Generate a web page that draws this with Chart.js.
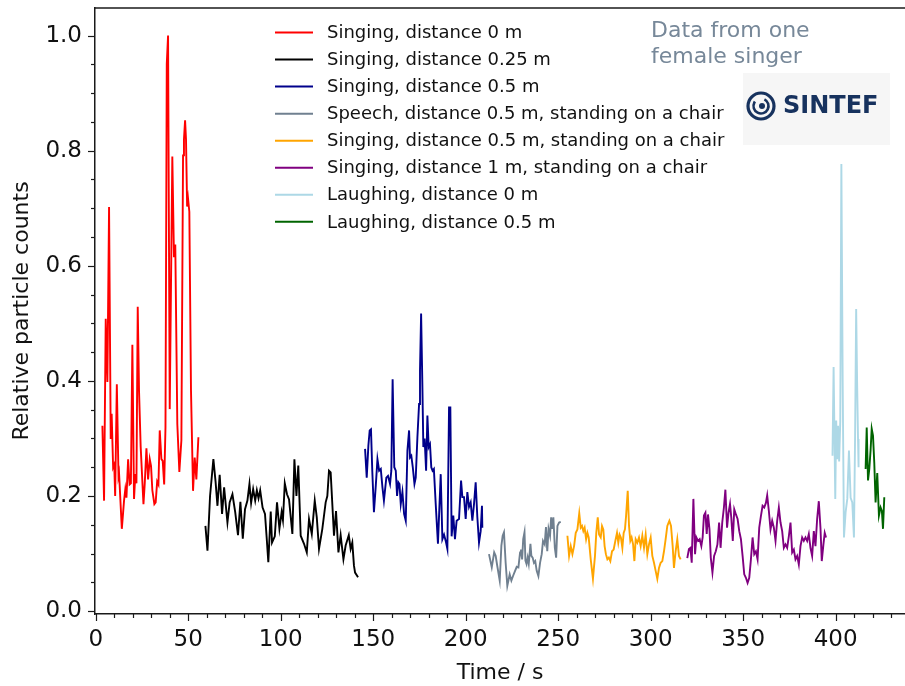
<!DOCTYPE html>
<html>
<head>
<meta charset="utf-8">
<script src="https://cdn.jsdelivr.net/npm/chart.js@4.4.0/dist/chart.umd.min.js"></script>
<style>
  html, body { margin: 0; padding: 0; background: #fff; }
  #wrap { width: 905px; height: 686px; position: relative; }
</style>
</head>
<body>
<div id="wrap"><canvas id="chart"></canvas></div>
<script>
// Relative particle counts vs time, one segment per recording condition
const labels = [
    'Singing, distance 0 m',
    'Singing, distance 0.25 m',
    'Singing, distance 0.5 m',
    'Speech, distance 0.5 m, standing on a chair',
    'Singing, distance 0.5 m, standing on a chair',
    'Singing, distance 1 m, standing on a chair',
    'Laughing, distance 0 m',
    'Laughing, distance 0.5 m'
];
const colors = ['#ff0000', '#000000', '#00008b', '#708090', '#ffa500', '#800080', '#add8e6', '#006400'];

const xTicks = [0, 50, 100, 150, 200, 250, 300, 350, 400];
const yTicks = [0.0, 0.2, 0.4, 0.6, 0.8, 1.0];

const sing0T = [3.6, 4.5, 5.4, 6.3, 7.2, 8.1, 8.6, 9.4, 10, 10.5, 11.4, 12.3, 12.6, 14.1, 15.3, 16, 16.6, 17.5, 18.3, 19, 19.8, 20.7, 21.4, 22, 22.7, 23.4, 24.3, 25.8, 26.5, 27.4, 28.3, 29.2, 29.9, 30.6, 31.7, 32.4, 33.2, 33.9, 34.6, 35.5, 36.2, 37, 37.7, 38.4, 39.1, 40, 41.4, 42.3, 43, 44.1, 45.2, 46.3, 47.2, 47.7, 48.3, 48.8, 49.4, 49.9, 50.6, 51.5, 52.6, 53.5, 54.4, 55.5];
const sing0V = [0.322, 0.192, 0.508, 0.398, 0.702, 0.299, 0.343, 0.25, 0.255, 0.2, 0.394, 0.235, 0.24, 0.143, 0.192, 0.212, 0.197, 0.264, 0.22, 0.222, 0.463, 0.195, 0.238, 0.222, 0.529, 0.383, 0.285, 0.186, 0.222, 0.283, 0.229, 0.264, 0.252, 0.21, 0.186, 0.189, 0.225, 0.22, 0.314, 0.264, 0.261, 0.22, 0.319, 0.951, 1.0, 0.351, 0.79, 0.615, 0.637, 0.325, 0.242, 0.297, 0.792, 0.82, 0.853, 0.82, 0.703, 0.717, 0.694, 0.383, 0.209, 0.267, 0.229, 0.302];

const sing25T = [59.3, 60.4, 61.8, 63.6, 64.8, 65.8, 67, 68.3, 69.4, 71.2, 72.4, 73.9, 75.4, 76.9, 78.2, 79.5, 80.7, 82, 83.1, 84, 85.1, 86.2, 87.1, 88, 88.9, 90.2, 91.5, 92.4, 93.3, 94.6, 95.3, 96.8, 98, 99.3, 100.5, 101.2, 102.2, 103.4, 104.5, 106.3, 107.4, 108.5, 109.5, 110.8, 112.6, 114.1, 115.3, 116.8, 118.4, 119.5, 120.7, 122.5, 124.3, 125.2, 126.1, 127, 128.8, 129.9, 131.2, 132.4, 133.9, 135.1, 136.8, 137.8, 138.7, 139.6, 140.2, 141.8];
const sing25V = [0.148, 0.105, 0.2, 0.264, 0.224, 0.183, 0.237, 0.169, 0.215, 0.154, 0.189, 0.203, 0.172, 0.132, 0.19, 0.126, 0.177, 0.192, 0.221, 0.188, 0.212, 0.192, 0.21, 0.196, 0.21, 0.18, 0.169, 0.128, 0.085, 0.173, 0.119, 0.13, 0.189, 0.143, 0.172, 0.158, 0.222, 0.203, 0.194, 0.134, 0.264, 0.2, 0.253, 0.131, 0.117, 0.102, 0.16, 0.134, 0.192, 0.163, 0.108, 0.143, 0.189, 0.2, 0.244, 0.241, 0.131, 0.174, 0.102, 0.132, 0.09, 0.114, 0.132, 0.108, 0.119, 0.079, 0.067, 0.059];

const sing05T = [145.6, 146.5, 147.4, 148.1, 148.8, 149.5, 150.4, 151.4, 152.3, 153.2, 154.1, 155, 155.8, 157.1, 158, 159.1, 159.8, 160.5, 161.4, 162.2, 162.9, 163.6, 164.2, 164.9, 165.8, 166.7, 167.6, 168.5, 169.4, 169.9, 170.6, 171.4, 172.3, 173, 173.9, 174.8, 175.3, 175.9, 176.6, 177.1, 177.8, 178.6, 179.3, 180, 180.7, 181.4, 182.1, 182.8, 183.8, 185, 186.5, 187.4, 188.3, 189.2, 190.1, 191, 191.7, 192.4, 193.3, 194.2, 195.1, 196.4, 197.5, 198.2, 199.1, 200, 200.9, 201.8, 202.7, 203.6, 204.5, 205.4, 206.3, 207.2, 208.1, 208.8, 209];
const sing05V = [0.282, 0.232, 0.288, 0.314, 0.316, 0.244, 0.172, 0.218, 0.264, 0.244, 0.247, 0.215, 0.192, 0.232, 0.235, 0.221, 0.244, 0.403, 0.25, 0.244, 0.2, 0.224, 0.221, 0.186, 0.207, 0.169, 0.157, 0.279, 0.314, 0.267, 0.27, 0.25, 0.221, 0.232, 0.302, 0.36, 0.418, 0.517, 0.389, 0.285, 0.3, 0.244, 0.34, 0.285, 0.29, 0.25, 0.244, 0.247, 0.186, 0.117, 0.238, 0.125, 0.133, 0.122, 0.108, 0.354, 0.354, 0.13, 0.166, 0.125, 0.157, 0.16, 0.227, 0.198, 0.198, 0.16, 0.207, 0.181, 0.189, 0.157, 0.186, 0.224, 0.163, 0.119, 0.139, 0.183, 0.145];

const speechT = [212.6, 214.1, 215.4, 216.2, 217.1, 218.4, 219.3, 220, 220.7, 221.6, 222.5, 223.8, 224.7, 225.6, 226.7, 227.6, 228.5, 229.4, 229.9, 230.5, 231.1, 231.8, 232.3, 232.9, 233.5, 234.1, 235, 235.5, 236.2, 236.9, 237.6, 238.4, 239.3, 240.2, 241.1, 241.8, 242.7, 243.4, 244.1, 244.8, 245.6, 246.2, 246.9, 247.4, 248.2, 248.9, 249.6, 250.5, 251.4];
const speechV = [0.099, 0.076, 0.102, 0.096, 0.078, 0.053, 0.114, 0.131, 0.137, 0.084, 0.044, 0.064, 0.053, 0.061, 0.07, 0.077, 0.076, 0.102, 0.107, 0.09, 0.125, 0.137, 0.088, 0.082, 0.093, 0.082, 0.117, 0.096, 0.093, 0.084, 0.087, 0.07, 0.061, 0.084, 0.099, 0.122, 0.116, 0.146, 0.104, 0.143, 0.131, 0.163, 0.143, 0.163, 0.11, 0.093, 0.148, 0.154, 0.155];

const chair05T = [255, 255.9, 256.8, 257.7, 258.6, 259.5, 260.4, 261.4, 262.2, 262.9, 263.6, 264.3, 265.1, 265.8, 266.5, 267.6, 268.8, 269.9, 270.6, 271.4, 272.1, 273, 273.7, 274.4, 275.1, 275.8, 276.6, 277.4, 278.2, 279.1, 280, 280.9, 281.8, 282.5, 283.2, 283.9, 284.7, 285.4, 286.1, 286.7, 287.6, 288.3, 289, 289.7, 290.5, 291.2, 291.9, 292.8, 293.7, 294.6, 295.5, 296.4, 297.3, 298.2, 299.1, 300, 300.9, 301.8, 302.7, 303.6, 304.5, 305.4, 306.3, 307.2, 308.1, 309, 310.1, 311, 311.9, 312.6, 313.5, 314.4, 315.3, 316.2];
const chair05V = [0.131, 0.096, 0.113, 0.099, 0.113, 0.136, 0.142, 0.17, 0.145, 0.148, 0.139, 0.145, 0.125, 0.136, 0.128, 0.09, 0.056, 0.096, 0.136, 0.163, 0.133, 0.128, 0.148, 0.142, 0.113, 0.099, 0.09, 0.093, 0.087, 0.104, 0.107, 0.122, 0.136, 0.119, 0.133, 0.128, 0.11, 0.136, 0.142, 0.165, 0.209, 0.148, 0.122, 0.128, 0.116, 0.087, 0.125, 0.119, 0.128, 0.113, 0.131, 0.11, 0.133, 0.099, 0.116, 0.128, 0.096, 0.084, 0.07, 0.056, 0.075, 0.084, 0.087, 0.104, 0.125, 0.148, 0.157, 0.148, 0.113, 0.075, 0.104, 0.125, 0.096, 0.09];

const chair1T = [319.8, 320.7, 321.5, 322.2, 323.1, 324, 324.7, 325.6, 326.5, 327.4, 328.1, 328.8, 329.6, 330.3, 331, 331.8, 332.5, 333.4, 334.3, 335.2, 336.1, 337, 337.8, 338.7, 339.6, 340.4, 341.3, 342.1, 342.9, 343.6, 344.4, 345.2, 346.1, 347, 347.9, 348.8, 349.7, 350.6, 351.5, 352.4, 353.3, 354.2, 355.1, 356, 356.9, 357.8, 358.7, 359.6, 360.5, 361.4, 362.3, 363, 363.9, 364.8, 365.7, 366.6, 367.5, 368.4, 369.3, 370.2, 371.1, 372, 372.9, 373.8, 374.7, 375.6, 376.5, 377.4, 378.3, 379.2, 380.1, 381, 381.9, 382.8, 383.7, 384.6, 385.5, 386.4, 387.3, 388.2, 389.1, 390, 390.9, 391.8, 392.5, 393.4, 394.1, 394.8];
const chair1V = [0.092, 0.108, 0.11, 0.084, 0.195, 0.099, 0.128, 0.122, 0.125, 0.113, 0.128, 0.166, 0.171, 0.134, 0.168, 0.142, 0.093, 0.067, 0.096, 0.104, 0.116, 0.154, 0.11, 0.154, 0.18, 0.211, 0.145, 0.171, 0.186, 0.162, 0.122, 0.177, 0.168, 0.16, 0.139, 0.125, 0.096, 0.064, 0.058, 0.049, 0.058, 0.09, 0.128, 0.099, 0.104, 0.09, 0.145, 0.165, 0.183, 0.18, 0.188, 0.201, 0.174, 0.142, 0.157, 0.145, 0.122, 0.157, 0.18, 0.154, 0.139, 0.11, 0.116, 0.11, 0.13, 0.154, 0.102, 0.107, 0.09, 0.096, 0.081, 0.113, 0.128, 0.122, 0.128, 0.122, 0.134, 0.11, 0.096, 0.139, 0.113, 0.16, 0.191, 0.145, 0.087, 0.116, 0.136, 0.128];

const laugh0T = [398.3, 398.9, 399.3, 399.8, 400.3, 400.8, 401.3, 401.9, 402.5, 403.1, 403.8, 404.5, 405.4, 406.3, 407.2, 408.1, 409, 409.9, 410.5, 411.1, 411.6, 412.1, 412.4];
const laugh0V = [0.27, 0.424, 0.322, 0.195, 0.331, 0.264, 0.322, 0.26, 0.33, 0.777, 0.4, 0.128, 0.172, 0.195, 0.279, 0.197, 0.189, 0.128, 0.3, 0.525, 0.4, 0.299, 0.25];

const laugh05T = [416.2, 416.8, 417.5, 418.2, 418.9, 419.5, 420.2, 420.9, 421.6, 422.5, 423.4, 424.3, 425, 425.6, 426.3];
const laugh05V = [0.247, 0.319, 0.227, 0.247, 0.28, 0.317, 0.305, 0.257, 0.189, 0.24, 0.166, 0.18, 0.174, 0.143, 0.198];

const seriesT = [sing0T, sing25T, sing05T, speechT, chair05T, chair1T, laugh0T, laugh05T];
const seriesV = [sing0V, sing25V, sing05V, speechV, chair05V, chair1V, laugh0V, laugh05V];

const FONT = '"DejaVu Sans", sans-serif';
const AXIS = '#1a1a1a';

// spines, minor/major tick marks, legend, note and logo
const decorations = {
    id: 'decorations',
    afterDraw(chart) {
        const ctx = chart.ctx;
        const area = chart.chartArea;
        const xs = chart.scales.x;
        const ys = chart.scales.y;
        ctx.save();

        // top spine
        ctx.strokeStyle = AXIS;
        ctx.lineWidth = 1.5;
        ctx.beginPath();
        ctx.moveTo(area.left, area.top);
        ctx.lineTo(area.right, area.top);
        ctx.stroke();

        // x ticks
        ctx.lineWidth = 1.2;
        for (let v = 0; v <= 430; v += 10) {
            const px = Math.round(xs.getPixelForValue(v)) + 0.5;
            const len = v % 50 === 0 ? 7 : 4;
            ctx.beginPath();
            ctx.moveTo(px, area.bottom);
            ctx.lineTo(px, area.bottom + len);
            ctx.stroke();
        }
        // y ticks
        for (let i = 0; i <= 20; i++) {
            const py = Math.round(ys.getPixelForValue(i * 0.05)) + 0.5;
            const len = i % 4 === 0 ? 7 : 4;
            ctx.beginPath();
            ctx.moveTo(area.left, py);
            ctx.lineTo(area.left - len, py);
            ctx.stroke();
        }

        // legend
        ctx.font = '18px ' + FONT;
        ctx.textBaseline = 'middle';
        ctx.textAlign = 'left';
        chart.data.datasets.forEach((ds, i) => {
            const y = 32.5 + i * 27.05;
            ctx.strokeStyle = ds.borderColor;
            ctx.lineWidth = 2;
            ctx.beginPath();
            ctx.moveTo(275, y);
            ctx.lineTo(313, y);
            ctx.stroke();
            ctx.fillStyle = '#111';
            ctx.fillText(ds.label, 327, y + 1);
        });

        // note
        ctx.font = '22px ' + FONT;
        ctx.fillStyle = '#778899';
        ctx.fillText('Data from one', 651, 31);
        ctx.fillText('female singer', 651, 57);

        // logo box
        ctx.fillStyle = '#f6f6f6';
        ctx.fillRect(743, 73, 147, 72);
        const cx = 761, cy = 106;
        ctx.strokeStyle = '#17325e';
        ctx.fillStyle = '#17325e';
        ctx.lineWidth = 3.2;
        ctx.beginPath();
        ctx.arc(cx, cy, 13, 0, Math.PI * 2);
        ctx.stroke();
        ctx.lineWidth = 2.6;
        ctx.beginPath();
        ctx.arc(cx, cy, 7.5, -Math.PI * 0.35, Math.PI * 1.2);
        ctx.stroke();
        ctx.beginPath();
        ctx.arc(cx + 1, cy, 3, 0, Math.PI * 2);
        ctx.fill();
        ctx.font = 'bold 24px ' + FONT;
        ctx.fillText('SINTEF', 783, 107);

        ctx.restore();
    }
};

const datasets = labels.map((label, i) => ({
    label: label,
    data: seriesT[i].map((t, j) => ({ x: t, y: seriesV[i][j] })),
    borderColor: colors[i],
    backgroundColor: colors[i],
    borderWidth: 1.9,
    pointRadius: 0,
    tension: 0,
    fill: false
}));

new Chart(document.getElementById('chart'), {
    type: 'line',
    data: { datasets: datasets },
    options: {
        responsive: true,
        maintainAspectRatio: false,
        animation: false,
        layout: { padding: { top: 8, right: 0, left: 0, bottom: 0 } },
        plugins: { legend: { display: false }, tooltip: { enabled: false } },
        scales: {
            x: {
                type: 'linear',
                min: -0.4,
                max: 437.5,
                afterBuildTicks: scale => { scale.ticks = xTicks.map(v => ({ value: v })); },
                afterFit: scale => {
                    scale.height = 72;
                    scale.paddingLeft = 0;
                    scale.paddingRight = 0;
                },
                grid: { display: true, drawOnChartArea: false, drawTicks: true, tickLength: 7, tickColor: 'rgba(0,0,0,0)' },
                border: { display: true, color: AXIS, width: 1.5 },
                ticks: { color: '#111', padding: 5, maxRotation: 0, font: { family: FONT, size: 23 } },
                title: { display: true, text: 'Time / s', color: '#111', padding: { top: 0, bottom: 0 }, font: { family: FONT, size: 22 } }
            },
            y: {
                type: 'linear',
                min: -0.005,
                max: 1.048,
                afterBuildTicks: scale => { scale.ticks = yTicks.map(v => ({ value: v })); },
                afterFit: scale => {
                    scale.width = 95;
                    scale.paddingTop = 0;
                    scale.paddingBottom = 0;
                },
                grid: { display: true, drawOnChartArea: false, drawTicks: true, tickLength: 7, tickColor: 'rgba(0,0,0,0)' },
                border: { display: true, color: AXIS, width: 1.5 },
                ticks: { color: '#111', padding: 6, callback: v => v.toFixed(1), font: { family: FONT, size: 23 } },
                title: { display: true, text: 'Relative particle counts', color: '#111', padding: { top: 9, bottom: 4 }, font: { family: FONT, size: 22 } }
            }
        }
    },
    plugins: [decorations]
});
</script>
</body>
</html>
